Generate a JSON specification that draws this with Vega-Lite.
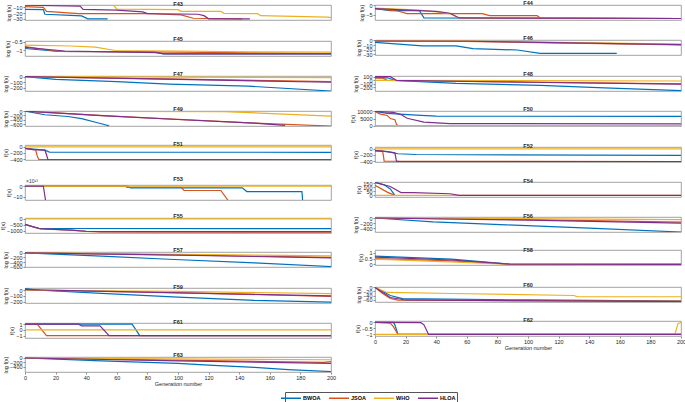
{
"$schema":"https://vega.github.io/schema/vega-lite/v6.json",
"padding":{"left":0,"top":0,"right":1,"bottom":0},
"background":"white",
"data":{"values":[
{"p":"F43","a":"BWOA","g":0,"v":-13.6},{"p":"F43","a":"BWOA","g":12,"v":-14},{"p":"F43","a":"BWOA","g":13,"v":-22},{"p":"F43","a":"BWOA","g":30,"v":-24},{"p":"F43","a":"BWOA","g":37,"v":-25},{"p":"F43","a":"BWOA","g":41,"v":-30},{"p":"F43","a":"BWOA","g":54,"v":-30},
{"p":"F43","a":"JSOA","g":0,"v":-8.7},{"p":"F43","a":"JSOA","g":12,"v":-10},{"p":"F43","a":"JSOA","g":14,"v":-17},{"p":"F43","a":"JSOA","g":35,"v":-21},{"p":"F43","a":"JSOA","g":83,"v":-21},{"p":"F43","a":"JSOA","g":90,"v":-22},{"p":"F43","a":"JSOA","g":102,"v":-23},{"p":"F43","a":"JSOA","g":110,"v":-29},{"p":"F43","a":"JSOA","g":142,"v":-30},
{"p":"F43","a":"WHO","g":0,"v":-6.4},{"p":"F43","a":"WHO","g":58,"v":-6.6},{"p":"F43","a":"WHO","g":60,"v":-13},{"p":"F43","a":"WHO","g":100,"v":-14},{"p":"F43","a":"WHO","g":102,"v":-17},{"p":"F43","a":"WHO","g":128,"v":-17},{"p":"F43","a":"WHO","g":130,"v":-20.5},{"p":"F43","a":"WHO","g":152,"v":-21},{"p":"F43","a":"WHO","g":154,"v":-24.5},{"p":"F43","a":"WHO","g":198,"v":-27},{"p":"F43","a":"WHO","g":200,"v":-28},
{"p":"F43","a":"HLOA","g":0,"v":-6.4},{"p":"F43","a":"HLOA","g":36,"v":-8},{"p":"F43","a":"HLOA","g":38,"v":-13.6},{"p":"F43","a":"HLOA","g":60,"v":-15},{"p":"F43","a":"HLOA","g":77,"v":-18},{"p":"F43","a":"HLOA","g":80,"v":-21},{"p":"F43","a":"HLOA","g":113,"v":-22},{"p":"F43","a":"HLOA","g":117,"v":-24.5},{"p":"F43","a":"HLOA","g":120,"v":-30},{"p":"F43","a":"HLOA","g":147,"v":-30},

{"p":"F44","a":"BWOA","g":0,"v":-1.7},{"p":"F44","a":"BWOA","g":10,"v":-2.8},{"p":"F44","a":"BWOA","g":29,"v":-2.8},{"p":"F44","a":"BWOA","g":32,"v":-6.7},{"p":"F44","a":"BWOA","g":100,"v":-6.8},{"p":"F44","a":"BWOA","g":200,"v":-7},
{"p":"F44","a":"JSOA","g":0,"v":-1.7},{"p":"F44","a":"JSOA","g":15,"v":-3},{"p":"F44","a":"JSOA","g":21,"v":-4.4},{"p":"F44","a":"JSOA","g":70,"v":-4.4},{"p":"F44","a":"JSOA","g":75,"v":-5.5},{"p":"F44","a":"JSOA","g":106,"v":-5.5},{"p":"F44","a":"JSOA","g":108,"v":-6.7},{"p":"F44","a":"JSOA","g":200,"v":-7},
{"p":"F44","a":"WHO","g":0,"v":-1.5},{"p":"F44","a":"WHO","g":15,"v":-2},{"p":"F44","a":"WHO","g":29,"v":-2.5},{"p":"F44","a":"WHO","g":40,"v":-3.5},{"p":"F44","a":"WHO","g":49,"v":-4.4},{"p":"F44","a":"WHO","g":55,"v":-6.7},{"p":"F44","a":"WHO","g":200,"v":-7},
{"p":"F44","a":"HLOA","g":0,"v":-1.7},{"p":"F44","a":"HLOA","g":29,"v":-2.8},{"p":"F44","a":"HLOA","g":40,"v":-3.2},{"p":"F44","a":"HLOA","g":49,"v":-4.2},{"p":"F44","a":"HLOA","g":55,"v":-6.7},{"p":"F44","a":"HLOA","g":200,"v":-7},

{"p":"F45","a":"BWOA","g":0,"v":-0.9},{"p":"F45","a":"BWOA","g":22,"v":-1.08},{"p":"F45","a":"BWOA","g":85,"v":-1.1},{"p":"F45","a":"BWOA","g":90,"v":-1.22},{"p":"F45","a":"BWOA","g":200,"v":-1.22},
{"p":"F45","a":"JSOA","g":0,"v":-0.78},{"p":"F45","a":"JSOA","g":22,"v":-1.08},{"p":"F45","a":"JSOA","g":100,"v":-1.12},{"p":"F45","a":"JSOA","g":200,"v":-1.2},
{"p":"F45","a":"WHO","g":0,"v":-0.7},{"p":"F45","a":"WHO","g":30,"v":-0.75},{"p":"F45","a":"WHO","g":46,"v":-0.82},{"p":"F45","a":"WHO","g":59,"v":-1.02},{"p":"F45","a":"WHO","g":100,"v":-1.05},{"p":"F45","a":"WHO","g":146,"v":-1.1},{"p":"F45","a":"WHO","g":200,"v":-1.12},
{"p":"F45","a":"HLOA","g":0,"v":-0.83},{"p":"F45","a":"HLOA","g":26,"v":-1.05},{"p":"F45","a":"HLOA","g":85,"v":-1.15},{"p":"F45","a":"HLOA","g":92,"v":-1.22},{"p":"F45","a":"HLOA","g":200,"v":-1.22},

{"p":"F46","a":"BWOA","g":0,"v":-4.3},{"p":"F46","a":"BWOA","g":31,"v":-12},{"p":"F46","a":"BWOA","g":53,"v":-12},{"p":"F46","a":"BWOA","g":64,"v":-18},{"p":"F46","a":"BWOA","g":93,"v":-21},{"p":"F46","a":"BWOA","g":108,"v":-28.6},{"p":"F46","a":"BWOA","g":158,"v":-28.6},
{"p":"F46","a":"JSOA","g":0,"v":-1.5},{"p":"F46","a":"JSOA","g":60,"v":-2},{"p":"F46","a":"JSOA","g":200,"v":-10},
{"p":"F46","a":"WHO","g":0,"v":-1},{"p":"F46","a":"WHO","g":60,"v":-1.5},{"p":"F46","a":"WHO","g":200,"v":-8},
{"p":"F46","a":"HLOA","g":0,"v":-1.2},{"p":"F46","a":"HLOA","g":60,"v":-1.8},{"p":"F46","a":"HLOA","g":200,"v":-9},

{"p":"F47","a":"BWOA","g":0,"v":0},{"p":"F47","a":"BWOA","g":20,"v":-48},{"p":"F47","a":"BWOA","g":60,"v":-90},{"p":"F47","a":"BWOA","g":94,"v":-133},{"p":"F47","a":"BWOA","g":146,"v":-170},{"p":"F47","a":"BWOA","g":200,"v":-255},
{"p":"F47","a":"JSOA","g":0,"v":0},{"p":"F47","a":"JSOA","g":100,"v":-45},{"p":"F47","a":"JSOA","g":200,"v":-90},
{"p":"F47","a":"WHO","g":0,"v":0},{"p":"F47","a":"WHO","g":100,"v":-10},{"p":"F47","a":"WHO","g":200,"v":-18},
{"p":"F47","a":"HLOA","g":0,"v":0},{"p":"F47","a":"HLOA","g":100,"v":-50},{"p":"F47","a":"HLOA","g":200,"v":-100},

{"p":"F48","a":"BWOA","g":0,"v":80},{"p":"F48","a":"BWOA","g":8,"v":70},{"p":"F48","a":"BWOA","g":13,"v":0},{"p":"F48","a":"BWOA","g":53,"v":-85},{"p":"F48","a":"BWOA","g":108,"v":-140},{"p":"F48","a":"BWOA","g":150,"v":-210},{"p":"F48","a":"BWOA","g":200,"v":-290},
{"p":"F48","a":"JSOA","g":0,"v":60},{"p":"F48","a":"JSOA","g":5,"v":60},{"p":"F48","a":"JSOA","g":8,"v":0},{"p":"F48","a":"JSOA","g":100,"v":-50},{"p":"F48","a":"JSOA","g":200,"v":-100},
{"p":"F48","a":"WHO","g":0,"v":0},{"p":"F48","a":"WHO","g":100,"v":-10},{"p":"F48","a":"WHO","g":200,"v":-20},
{"p":"F48","a":"HLOA","g":0,"v":100},{"p":"F48","a":"HLOA","g":10,"v":100},{"p":"F48","a":"HLOA","g":14,"v":0},{"p":"F48","a":"HLOA","g":100,"v":-55},{"p":"F48","a":"HLOA","g":200,"v":-110},

{"p":"F49","a":"BWOA","g":0,"v":0},{"p":"F49","a":"BWOA","g":13,"v":-170},{"p":"F49","a":"BWOA","g":28,"v":-250},{"p":"F49","a":"BWOA","g":37,"v":-350},{"p":"F49","a":"BWOA","g":48,"v":-550},{"p":"F49","a":"BWOA","g":55,"v":-680},
{"p":"F49","a":"JSOA","g":0,"v":0},{"p":"F49","a":"JSOA","g":57,"v":-230},{"p":"F49","a":"JSOA","g":100,"v":-380},{"p":"F49","a":"JSOA","g":150,"v":-560},{"p":"F49","a":"JSOA","g":200,"v":-690},
{"p":"F49","a":"WHO","g":0,"v":0},{"p":"F49","a":"WHO","g":130,"v":-20},{"p":"F49","a":"WHO","g":200,"v":-230},
{"p":"F49","a":"HLOA","g":0,"v":0},{"p":"F49","a":"HLOA","g":50,"v":-210},{"p":"F49","a":"HLOA","g":100,"v":-390},{"p":"F49","a":"HLOA","g":150,"v":-560},{"p":"F49","a":"HLOA","g":170,"v":-660},

{"p":"F50","a":"BWOA","g":0,"v":10000},{"p":"F50","a":"BWOA","g":8,"v":8700},{"p":"F50","a":"BWOA","g":27,"v":7400},{"p":"F50","a":"BWOA","g":40,"v":6700},{"p":"F50","a":"BWOA","g":200,"v":6500},
{"p":"F50","a":"JSOA","g":0,"v":10000},{"p":"F50","a":"JSOA","g":3,"v":8300},{"p":"F50","a":"JSOA","g":8,"v":7200},{"p":"F50","a":"JSOA","g":10,"v":5000},{"p":"F50","a":"JSOA","g":13,"v":4200},{"p":"F50","a":"JSOA","g":14,"v":1000},{"p":"F50","a":"JSOA","g":15,"v":0},
{"p":"F50","a":"WHO","g":0,"v":0},{"p":"F50","a":"WHO","g":200,"v":0},
{"p":"F50","a":"HLOA","g":0,"v":10000},{"p":"F50","a":"HLOA","g":12,"v":9400},{"p":"F50","a":"HLOA","g":17,"v":7800},{"p":"F50","a":"HLOA","g":21,"v":5200},{"p":"F50","a":"HLOA","g":32,"v":2500},{"p":"F50","a":"HLOA","g":49,"v":1500},{"p":"F50","a":"HLOA","g":200,"v":1300},

{"p":"F51","a":"BWOA","g":0,"v":-50},{"p":"F51","a":"BWOA","g":13,"v":-110},{"p":"F51","a":"BWOA","g":16,"v":-170},{"p":"F51","a":"BWOA","g":200,"v":-180},
{"p":"F51","a":"JSOA","g":0,"v":-50},{"p":"F51","a":"JSOA","g":7,"v":-100},{"p":"F51","a":"JSOA","g":8,"v":-300},{"p":"F51","a":"JSOA","g":9,"v":-410},{"p":"F51","a":"JSOA","g":200,"v":-415},
{"p":"F51","a":"WHO","g":0,"v":0},{"p":"F51","a":"WHO","g":200,"v":0},
{"p":"F51","a":"HLOA","g":0,"v":-50},{"p":"F51","a":"HLOA","g":5,"v":-90},{"p":"F51","a":"HLOA","g":13,"v":-110},{"p":"F51","a":"HLOA","g":14,"v":-250},{"p":"F51","a":"HLOA","g":15,"v":-420},{"p":"F51","a":"HLOA","g":200,"v":-425},

{"p":"F52","a":"BWOA","g":0,"v":-60},{"p":"F52","a":"BWOA","g":8,"v":-90},{"p":"F52","a":"BWOA","g":15,"v":-160},{"p":"F52","a":"BWOA","g":27,"v":-185},{"p":"F52","a":"BWOA","g":200,"v":-215},
{"p":"F52","a":"JSOA","g":0,"v":-60},{"p":"F52","a":"JSOA","g":5,"v":-70},{"p":"F52","a":"JSOA","g":6,"v":-400},{"p":"F52","a":"JSOA","g":200,"v":-420},
{"p":"F52","a":"WHO","g":0,"v":0},{"p":"F52","a":"WHO","g":200,"v":0},
{"p":"F52","a":"HLOA","g":0,"v":-60},{"p":"F52","a":"HLOA","g":8,"v":-90},{"p":"F52","a":"HLOA","g":13,"v":-130},{"p":"F52","a":"HLOA","g":14,"v":-400},{"p":"F52","a":"HLOA","g":16,"v":-420},{"p":"F52","a":"HLOA","g":200,"v":-420},

{"p":"F53","a":"BWOA","g":0,"v":0},{"p":"F53","a":"BWOA","g":67,"v":0},{"p":"F53","a":"BWOA","g":69,"v":-1.5},{"p":"F53","a":"BWOA","g":142,"v":-1.5},{"p":"F53","a":"BWOA","g":145,"v":-5},{"p":"F53","a":"BWOA","g":181,"v":-5},{"p":"F53","a":"BWOA","g":181.5,"v":-14},
{"p":"F53","a":"JSOA","g":0,"v":0},{"p":"F53","a":"JSOA","g":65,"v":0},{"p":"F53","a":"JSOA","g":67,"v":-1},{"p":"F53","a":"JSOA","g":102,"v":-1},{"p":"F53","a":"JSOA","g":104,"v":-4},{"p":"F53","a":"JSOA","g":128,"v":-4},{"p":"F53","a":"JSOA","g":133,"v":-14},
{"p":"F53","a":"WHO","g":0,"v":0},{"p":"F53","a":"WHO","g":200,"v":0},
{"p":"F53","a":"HLOA","g":0,"v":0},{"p":"F53","a":"HLOA","g":12,"v":0},{"p":"F53","a":"HLOA","g":13.5,"v":-14},

{"p":"F54","a":"BWOA","g":0,"v":160},{"p":"F54","a":"BWOA","g":6,"v":130},{"p":"F54","a":"BWOA","g":10,"v":80},{"p":"F54","a":"BWOA","g":13,"v":0},
{"p":"F54","a":"JSOA","g":0,"v":125},{"p":"F54","a":"JSOA","g":8,"v":40},{"p":"F54","a":"JSOA","g":13,"v":0},
{"p":"F54","a":"WHO","g":0,"v":0},{"p":"F54","a":"WHO","g":200,"v":0},
{"p":"F54","a":"HLOA","g":0,"v":160},{"p":"F54","a":"HLOA","g":10,"v":110},{"p":"F54","a":"HLOA","g":17,"v":35},{"p":"F54","a":"HLOA","g":25,"v":35},{"p":"F54","a":"HLOA","g":49,"v":20},{"p":"F54","a":"HLOA","g":55,"v":0},{"p":"F54","a":"HLOA","g":200,"v":0},

{"p":"F55","a":"BWOA","g":0,"v":-450},{"p":"F55","a":"BWOA","g":3,"v":-600},{"p":"F55","a":"BWOA","g":9,"v":-800},{"p":"F55","a":"BWOA","g":200,"v":-820},
{"p":"F55","a":"JSOA","g":0,"v":-450},{"p":"F55","a":"JSOA","g":10,"v":-850},{"p":"F55","a":"JSOA","g":30,"v":-950},{"p":"F55","a":"JSOA","g":40,"v":-1050},{"p":"F55","a":"JSOA","g":50,"v":-1100},{"p":"F55","a":"JSOA","g":200,"v":-1120},
{"p":"F55","a":"WHO","g":0,"v":0},{"p":"F55","a":"WHO","g":200,"v":0},
{"p":"F55","a":"HLOA","g":0,"v":-450},{"p":"F55","a":"HLOA","g":10,"v":-830},{"p":"F55","a":"HLOA","g":30,"v":-950},{"p":"F55","a":"HLOA","g":40,"v":-1040},{"p":"F55","a":"HLOA","g":50,"v":-1080},{"p":"F55","a":"HLOA","g":200,"v":-1080},

{"p":"F56","a":"BWOA","g":0,"v":0},{"p":"F56","a":"BWOA","g":38,"v":-150},{"p":"F56","a":"BWOA","g":86,"v":-270},{"p":"F56","a":"BWOA","g":140,"v":-400},{"p":"F56","a":"BWOA","g":200,"v":-550},
{"p":"F56","a":"JSOA","g":0,"v":0},{"p":"F56","a":"JSOA","g":100,"v":-60},{"p":"F56","a":"JSOA","g":200,"v":-160},
{"p":"F56","a":"WHO","g":0,"v":0},{"p":"F56","a":"WHO","g":200,"v":-60},
{"p":"F56","a":"HLOA","g":0,"v":0},{"p":"F56","a":"HLOA","g":100,"v":-80},{"p":"F56","a":"HLOA","g":200,"v":-200},

{"p":"F57","a":"BWOA","g":0,"v":0},{"p":"F57","a":"BWOA","g":50,"v":-140},{"p":"F57","a":"BWOA","g":94,"v":-280},{"p":"F57","a":"BWOA","g":150,"v":-440},{"p":"F57","a":"BWOA","g":200,"v":-600},
{"p":"F57","a":"JSOA","g":0,"v":0},{"p":"F57","a":"JSOA","g":100,"v":-90},{"p":"F57","a":"JSOA","g":200,"v":-200},
{"p":"F57","a":"WHO","g":0,"v":0},{"p":"F57","a":"WHO","g":200,"v":-130},
{"p":"F57","a":"HLOA","g":0,"v":0},{"p":"F57","a":"HLOA","g":100,"v":-95},{"p":"F57","a":"HLOA","g":200,"v":-220},

{"p":"F58","a":"BWOA","g":0,"v":0.72},{"p":"F58","a":"BWOA","g":50,"v":0.45},{"p":"F58","a":"BWOA","g":88,"v":0.02},{"p":"F58","a":"BWOA","g":200,"v":0},
{"p":"F58","a":"JSOA","g":0,"v":0.5},{"p":"F58","a":"JSOA","g":50,"v":0.3},{"p":"F58","a":"JSOA","g":88,"v":0.02},{"p":"F58","a":"JSOA","g":200,"v":0},
{"p":"F58","a":"WHO","g":0,"v":0.45},{"p":"F58","a":"WHO","g":88,"v":0.02},{"p":"F58","a":"WHO","g":200,"v":0},
{"p":"F58","a":"HLOA","g":0,"v":0.62},{"p":"F58","a":"HLOA","g":50,"v":0.38},{"p":"F58","a":"HLOA","g":88,"v":0.02},{"p":"F58","a":"HLOA","g":200,"v":0},

{"p":"F59","a":"BWOA","g":0,"v":30},{"p":"F59","a":"BWOA","g":10,"v":0},{"p":"F59","a":"BWOA","g":50,"v":-55},{"p":"F59","a":"BWOA","g":100,"v":-120},{"p":"F59","a":"BWOA","g":150,"v":-180},{"p":"F59","a":"BWOA","g":200,"v":-210},
{"p":"F59","a":"JSOA","g":0,"v":20},{"p":"F59","a":"JSOA","g":5,"v":0},{"p":"F59","a":"JSOA","g":100,"v":-40},{"p":"F59","a":"JSOA","g":200,"v":-110},
{"p":"F59","a":"WHO","g":0,"v":0},{"p":"F59","a":"WHO","g":100,"v":-20},{"p":"F59","a":"WHO","g":200,"v":-60},
{"p":"F59","a":"HLOA","g":0,"v":10},{"p":"F59","a":"HLOA","g":100,"v":-45},{"p":"F59","a":"HLOA","g":200,"v":-100},

{"p":"F60","a":"BWOA","g":0,"v":0},{"p":"F60","a":"BWOA","g":10,"v":-40},{"p":"F60","a":"BWOA","g":18,"v":-55},{"p":"F60","a":"BWOA","g":100,"v":-62},{"p":"F60","a":"BWOA","g":200,"v":-68},
{"p":"F60","a":"JSOA","g":0,"v":0},{"p":"F60","a":"JSOA","g":5,"v":-30},{"p":"F60","a":"JSOA","g":10,"v":-55},{"p":"F60","a":"JSOA","g":15,"v":-63},{"p":"F60","a":"JSOA","g":200,"v":-68},
{"p":"F60","a":"WHO","g":0,"v":0},{"p":"F60","a":"WHO","g":8,"v":-25},{"p":"F60","a":"WHO","g":50,"v":-30},{"p":"F60","a":"WHO","g":130,"v":-40},{"p":"F60","a":"WHO","g":132,"v":-45},{"p":"F60","a":"WHO","g":200,"v":-46},
{"p":"F60","a":"HLOA","g":0,"v":0},{"p":"F60","a":"HLOA","g":10,"v":-50},{"p":"F60","a":"HLOA","g":20,"v":-62},{"p":"F60","a":"HLOA","g":200,"v":-70},

{"p":"F61","a":"BWOA","g":0,"v":1},{"p":"F61","a":"BWOA","g":70,"v":1},{"p":"F61","a":"BWOA","g":75,"v":-1},{"p":"F61","a":"BWOA","g":200,"v":-1},
{"p":"F61","a":"JSOA","g":0,"v":1},{"p":"F61","a":"JSOA","g":8,"v":1},{"p":"F61","a":"JSOA","g":14,"v":-1},{"p":"F61","a":"JSOA","g":200,"v":-1},
{"p":"F61","a":"WHO","g":0,"v":0},{"p":"F61","a":"WHO","g":200,"v":0},
{"p":"F61","a":"HLOA","g":0,"v":1},{"p":"F61","a":"HLOA","g":35,"v":1},{"p":"F61","a":"HLOA","g":37,"v":0.7},{"p":"F61","a":"HLOA","g":49,"v":0.7},{"p":"F61","a":"HLOA","g":55,"v":-1},{"p":"F61","a":"HLOA","g":200,"v":-1},

{"p":"F62","a":"BWOA","g":0,"v":0},{"p":"F62","a":"BWOA","g":12,"v":0},{"p":"F62","a":"BWOA","g":13,"v":-0.2},{"p":"F62","a":"BWOA","g":15,"v":-1},{"p":"F62","a":"BWOA","g":200,"v":-1},
{"p":"F62","a":"JSOA","g":0,"v":0},{"p":"F62","a":"JSOA","g":10,"v":-0.05},{"p":"F62","a":"JSOA","g":12,"v":-0.35},{"p":"F62","a":"JSOA","g":15,"v":-1},{"p":"F62","a":"JSOA","g":200,"v":-1},
{"p":"F62","a":"WHO","g":0,"v":-1},{"p":"F62","a":"WHO","g":196,"v":-1},{"p":"F62","a":"WHO","g":198,"v":-0.1},{"p":"F62","a":"WHO","g":200,"v":0},
{"p":"F62","a":"HLOA","g":0,"v":0},{"p":"F62","a":"HLOA","g":30,"v":-0.02},{"p":"F62","a":"HLOA","g":32,"v":-0.2},{"p":"F62","a":"HLOA","g":35,"v":-1},{"p":"F62","a":"HLOA","g":200,"v":-1},

{"p":"F63","a":"BWOA","g":0,"v":0},{"p":"F63","a":"BWOA","g":50,"v":-130},{"p":"F63","a":"BWOA","g":100,"v":-250},{"p":"F63","a":"BWOA","g":120,"v":-330},{"p":"F63","a":"BWOA","g":150,"v":-430},{"p":"F63","a":"BWOA","g":172,"v":-530},{"p":"F63","a":"BWOA","g":200,"v":-620},
{"p":"F63","a":"JSOA","g":0,"v":0},{"p":"F63","a":"JSOA","g":100,"v":-100},{"p":"F63","a":"JSOA","g":195,"v":-200},{"p":"F63","a":"JSOA","g":200,"v":-170},
{"p":"F63","a":"WHO","g":0,"v":0},{"p":"F63","a":"WHO","g":200,"v":-80},
{"p":"F63","a":"HLOA","g":0,"v":0},{"p":"F63","a":"HLOA","g":100,"v":-130},{"p":"F63","a":"HLOA","g":200,"v":-250}
]},
"hconcat":[
{"spacing":13,"vconcat":[
{"title":"F43","width":306,"height":15,"transform":[{"filter":"datum.p==='F43'"}],"mark":{"type":"line","strokeWidth":1.2,"clip":true},"encoding":{"x":{"field":"g","type":"quantitative","scale":{"domain":[0,200]},"axis":null},"y":{"field":"v","type":"quantitative","scale":{"domain":[-32,-6],"nice":false,"zero":false},"axis":{"values":[-30,-20,-10],"title":"log f(x)"}},"color":{"field":"a","type":"nominal","scale":{"domain":["BWOA","JSOA","WHO","HLOA"],"range":["#0072BD","#D95319","#EDB120","#7E2F8E"]},"legend":{"orient":"none","legendX":260,"legendY":387,"direction":"horizontal","title":null}}}},
{"title":"F45","width":306,"height":15,"transform":[{"filter":"datum.p==='F45'"}],"mark":{"type":"line","strokeWidth":1.2,"clip":true},"encoding":{"x":{"field":"g","type":"quantitative","scale":{"domain":[0,200]},"axis":null},"y":{"field":"v","type":"quantitative","scale":{"domain":[-1.35,-0.45],"nice":false,"zero":false},"axis":{"values":[-1,-0.5],"title":"log f(x)"}},"color":{"field":"a","type":"nominal","scale":{"domain":["BWOA","JSOA","WHO","HLOA"],"range":["#0072BD","#D95319","#EDB120","#7E2F8E"]},"legend":{"orient":"none","legendX":260,"legendY":387,"direction":"horizontal","title":null}}}},
{"title":"F47","width":306,"height":15,"transform":[{"filter":"datum.p==='F47'"}],"mark":{"type":"line","strokeWidth":1.2,"clip":true},"encoding":{"x":{"field":"g","type":"quantitative","scale":{"domain":[0,200]},"axis":null},"y":{"field":"v","type":"quantitative","scale":{"domain":[-255,10],"nice":false,"zero":false},"axis":{"values":[-200,-100,0],"title":"log f(x)"}},"color":{"field":"a","type":"nominal","scale":{"domain":["BWOA","JSOA","WHO","HLOA"],"range":["#0072BD","#D95319","#EDB120","#7E2F8E"]},"legend":{"orient":"none","legendX":260,"legendY":387,"direction":"horizontal","title":null}}}},
{"title":"F49","width":306,"height":15,"transform":[{"filter":"datum.p==='F49'"}],"mark":{"type":"line","strokeWidth":1.2,"clip":true},"encoding":{"x":{"field":"g","type":"quantitative","scale":{"domain":[0,200]},"axis":null},"y":{"field":"v","type":"quantitative","scale":{"domain":[-690,5],"nice":false,"zero":false},"axis":{"values":[-600,-400,-200,0],"title":"log f(x)"}},"color":{"field":"a","type":"nominal","scale":{"domain":["BWOA","JSOA","WHO","HLOA"],"range":["#0072BD","#D95319","#EDB120","#7E2F8E"]},"legend":{"orient":"none","legendX":260,"legendY":387,"direction":"horizontal","title":null}}}},
{"title":"F51","width":306,"height":15,"transform":[{"filter":"datum.p==='F51'"}],"mark":{"type":"line","strokeWidth":1.2,"clip":true},"encoding":{"x":{"field":"g","type":"quantitative","scale":{"domain":[0,200]},"axis":null},"y":{"field":"v","type":"quantitative","scale":{"domain":[-430,60],"nice":false,"zero":false},"axis":{"values":[-400,-200,0],"title":"f(x)"}},"color":{"field":"a","type":"nominal","scale":{"domain":["BWOA","JSOA","WHO","HLOA"],"range":["#0072BD","#D95319","#EDB120","#7E2F8E"]},"legend":{"orient":"none","legendX":260,"legendY":387,"direction":"horizontal","title":null}}}},
{"title":"F53","width":306,"height":15,"layer":[
 {"transform":[{"filter":"datum.p==='F53'"}],"mark":{"type":"line","strokeWidth":1.2,"clip":true},"encoding":{"x":{"field":"g","type":"quantitative","scale":{"domain":[0,200]},"axis":null},"y":{"field":"v","type":"quantitative","scale":{"domain":[-13,1.2],"nice":false,"zero":false},"axis":{"values":[-10,-5,0],"title":"f(x)"}},"color":{"field":"a","type":"nominal","scale":{"domain":["BWOA","JSOA","WHO","HLOA"],"range":["#0072BD","#D95319","#EDB120","#7E2F8E"]},"legend":{"orient":"none","legendX":260,"legendY":387,"direction":"horizontal","title":null}}}},
 {"data":{"values":[{"t":"×10¹³"}]},"mark":{"type":"text","fontSize":5,"font":"Liberation Sans","align":"left","baseline":"bottom","dx":1,"dy":-1,"color":"#333"},"encoding":{"x":{"datum":0,"type":"quantitative"},"y":{"datum":1.2,"type":"quantitative"},"text":{"field":"t"}}}
]},
{"title":"F55","width":306,"height":15,"transform":[{"filter":"datum.p==='F55'"}],"mark":{"type":"line","strokeWidth":1.2,"clip":true},"encoding":{"x":{"field":"g","type":"quantitative","scale":{"domain":[0,200]},"axis":null},"y":{"field":"v","type":"quantitative","scale":{"domain":[-1190,80],"nice":false,"zero":false},"axis":{"values":[-1000,-500,0],"title":"f(x)"}},"color":{"field":"a","type":"nominal","scale":{"domain":["BWOA","JSOA","WHO","HLOA"],"range":["#0072BD","#D95319","#EDB120","#7E2F8E"]},"legend":{"orient":"none","legendX":260,"legendY":387,"direction":"horizontal","title":null}}}},
{"title":"F57","width":306,"height":15,"transform":[{"filter":"datum.p==='F57'"}],"mark":{"type":"line","strokeWidth":1.2,"clip":true},"encoding":{"x":{"field":"g","type":"quantitative","scale":{"domain":[0,200]},"axis":null},"y":{"field":"v","type":"quantitative","scale":{"domain":[-620,40],"nice":false,"zero":false},"axis":{"values":[-600,-400,-200,0],"title":"log f(x)"}},"color":{"field":"a","type":"nominal","scale":{"domain":["BWOA","JSOA","WHO","HLOA"],"range":["#0072BD","#D95319","#EDB120","#7E2F8E"]},"legend":{"orient":"none","legendX":260,"legendY":387,"direction":"horizontal","title":null}}}},
{"title":"F59","width":306,"height":15,"transform":[{"filter":"datum.p==='F59'"}],"mark":{"type":"line","strokeWidth":1.2,"clip":true},"encoding":{"x":{"field":"g","type":"quantitative","scale":{"domain":[0,200]},"axis":null},"y":{"field":"v","type":"quantitative","scale":{"domain":[-225,40],"nice":false,"zero":false},"axis":{"values":[-200,-100,0],"title":"log f(x)"}},"color":{"field":"a","type":"nominal","scale":{"domain":["BWOA","JSOA","WHO","HLOA"],"range":["#0072BD","#D95319","#EDB120","#7E2F8E"]},"legend":{"orient":"none","legendX":260,"legendY":387,"direction":"horizontal","title":null}}}},
{"title":"F61","width":306,"height":15,"transform":[{"filter":"datum.p==='F61'"}],"mark":{"type":"line","strokeWidth":1.2,"clip":true},"encoding":{"x":{"field":"g","type":"quantitative","scale":{"domain":[0,200]},"axis":null},"y":{"field":"v","type":"quantitative","scale":{"domain":[-1.4,1.2],"nice":false,"zero":false},"axis":{"values":[-1,0,1],"title":"f(x)"}},"color":{"field":"a","type":"nominal","scale":{"domain":["BWOA","JSOA","WHO","HLOA"],"range":["#0072BD","#D95319","#EDB120","#7E2F8E"]},"legend":{"orient":"none","legendX":260,"legendY":387,"direction":"horizontal","title":null}}}},
{"title":"F63","width":306,"height":15,"transform":[{"filter":"datum.p==='F63'"}],"mark":{"type":"line","strokeWidth":1.2,"clip":true},"encoding":{"x":{"field":"g","type":"quantitative","scale":{"domain":[0,200]},"axis":{"values":[0,20,40,60,80,100,120,140,160,180,200],"title":"Generation number","labelFlush":false}},"y":{"field":"v","type":"quantitative","scale":{"domain":[-640,45],"nice":false,"zero":false},"axis":{"values":[-400,-200,0],"title":"log f(x)"}},"color":{"field":"a","type":"nominal","scale":{"domain":["BWOA","JSOA","WHO","HLOA"],"range":["#0072BD","#D95319","#EDB120","#7E2F8E"]},"legend":{"orient":"none","legendX":260,"legendY":387,"direction":"horizontal","title":null}}}}
]},
{"spacing":13,"vconcat":[
{"title":"F44","width":306,"height":15,"transform":[{"filter":"datum.p==='F44'"}],"mark":{"type":"line","strokeWidth":1.2,"clip":true},"encoding":{"x":{"field":"g","type":"quantitative","scale":{"domain":[0,200]},"axis":null},"y":{"field":"v","type":"quantitative","scale":{"domain":[-7.8,0.2],"nice":false,"zero":false},"axis":{"values":[-5,0],"title":"log f(x)"}},"color":{"field":"a","type":"nominal","scale":{"domain":["BWOA","JSOA","WHO","HLOA"],"range":["#0072BD","#D95319","#EDB120","#7E2F8E"]},"legend":{"orient":"none","legendX":260,"legendY":387,"direction":"horizontal","title":null}}}},
{"title":"F46","width":306,"height":15,"transform":[{"filter":"datum.p==='F46'"}],"mark":{"type":"line","strokeWidth":1.2,"clip":true},"encoding":{"x":{"field":"g","type":"quantitative","scale":{"domain":[0,200]},"axis":null},"y":{"field":"v","type":"quantitative","scale":{"domain":[-32,1],"nice":false,"zero":false},"axis":{"values":[-30,-20,-10,0],"title":"log f(x)"}},"color":{"field":"a","type":"nominal","scale":{"domain":["BWOA","JSOA","WHO","HLOA"],"range":["#0072BD","#D95319","#EDB120","#7E2F8E"]},"legend":{"orient":"none","legendX":260,"legendY":387,"direction":"horizontal","title":null}}}},
{"title":"F48","width":306,"height":15,"transform":[{"filter":"datum.p==='F48'"}],"mark":{"type":"line","strokeWidth":1.2,"clip":true},"encoding":{"x":{"field":"g","type":"quantitative","scale":{"domain":[0,200]},"axis":null},"y":{"field":"v","type":"quantitative","scale":{"domain":[-300,120],"nice":false,"zero":false},"axis":{"values":[-200,-100,0,100],"title":"log f(x)"}},"color":{"field":"a","type":"nominal","scale":{"domain":["BWOA","JSOA","WHO","HLOA"],"range":["#0072BD","#D95319","#EDB120","#7E2F8E"]},"legend":{"orient":"none","legendX":260,"legendY":387,"direction":"horizontal","title":null}}}},
{"title":"F50","width":306,"height":15,"transform":[{"filter":"datum.p==='F50'"}],"mark":{"type":"line","strokeWidth":1.2,"clip":true},"encoding":{"x":{"field":"g","type":"quantitative","scale":{"domain":[0,200]},"axis":null},"y":{"field":"v","type":"quantitative","scale":{"domain":[-200,10300],"nice":false,"zero":false},"axis":{"values":[0,5000,10000],"title":"f(x)"}},"color":{"field":"a","type":"nominal","scale":{"domain":["BWOA","JSOA","WHO","HLOA"],"range":["#0072BD","#D95319","#EDB120","#7E2F8E"]},"legend":{"orient":"none","legendX":260,"legendY":387,"direction":"horizontal","title":null}}}},
{"title":"F52","width":306,"height":15,"transform":[{"filter":"datum.p==='F52'"}],"mark":{"type":"line","strokeWidth":1.2,"clip":true},"encoding":{"x":{"field":"g","type":"quantitative","scale":{"domain":[0,200]},"axis":null},"y":{"field":"v","type":"quantitative","scale":{"domain":[-430,60],"nice":false,"zero":false},"axis":{"values":[-400,-200,0],"title":"f(x)"}},"color":{"field":"a","type":"nominal","scale":{"domain":["BWOA","JSOA","WHO","HLOA"],"range":["#0072BD","#D95319","#EDB120","#7E2F8E"]},"legend":{"orient":"none","legendX":260,"legendY":387,"direction":"horizontal","title":null}}}},
{"title":"F54","width":306,"height":15,"transform":[{"filter":"datum.p==='F54'"}],"mark":{"type":"line","strokeWidth":1.2,"clip":true},"encoding":{"x":{"field":"g","type":"quantitative","scale":{"domain":[0,200]},"axis":null},"y":{"field":"v","type":"quantitative","scale":{"domain":[-20,165],"nice":false,"zero":false},"axis":{"values":[0,50,100,150],"title":"f(x)"}},"color":{"field":"a","type":"nominal","scale":{"domain":["BWOA","JSOA","WHO","HLOA"],"range":["#0072BD","#D95319","#EDB120","#7E2F8E"]},"legend":{"orient":"none","legendX":260,"legendY":387,"direction":"horizontal","title":null}}}},
{"title":"F56","width":306,"height":15,"transform":[{"filter":"datum.p==='F56'"}],"mark":{"type":"line","strokeWidth":1.2,"clip":true},"encoding":{"x":{"field":"g","type":"quantitative","scale":{"domain":[0,200]},"axis":null},"y":{"field":"v","type":"quantitative","scale":{"domain":[-550,40],"nice":false,"zero":false},"axis":{"values":[-400,-200,0],"title":"log f(x)"}},"color":{"field":"a","type":"nominal","scale":{"domain":["BWOA","JSOA","WHO","HLOA"],"range":["#0072BD","#D95319","#EDB120","#7E2F8E"]},"legend":{"orient":"none","legendX":260,"legendY":387,"direction":"horizontal","title":null}}}},
{"title":"F58","width":306,"height":15,"transform":[{"filter":"datum.p==='F58'"}],"mark":{"type":"line","strokeWidth":1.2,"clip":true},"encoding":{"x":{"field":"g","type":"quantitative","scale":{"domain":[0,200]},"axis":null},"y":{"field":"v","type":"quantitative","scale":{"domain":[-0.05,1.24],"nice":false,"zero":false},"axis":{"values":[0,0.5,1],"title":"f(x)"}},"color":{"field":"a","type":"nominal","scale":{"domain":["BWOA","JSOA","WHO","HLOA"],"range":["#0072BD","#D95319","#EDB120","#7E2F8E"]},"legend":{"orient":"none","legendX":260,"legendY":387,"direction":"horizontal","title":null}}}},
{"title":"F60","width":306,"height":15,"transform":[{"filter":"datum.p==='F60'"}],"mark":{"type":"line","strokeWidth":1.2,"clip":true},"encoding":{"x":{"field":"g","type":"quantitative","scale":{"domain":[0,200]},"axis":null},"y":{"field":"v","type":"quantitative","scale":{"domain":[-72,2],"nice":false,"zero":false},"axis":{"values":[-60,-40,-20,0],"title":"log f(x)"}},"color":{"field":"a","type":"nominal","scale":{"domain":["BWOA","JSOA","WHO","HLOA"],"range":["#0072BD","#D95319","#EDB120","#7E2F8E"]},"legend":{"orient":"none","legendX":260,"legendY":387,"direction":"horizontal","title":null}}}},
{"title":"F62","width":306,"height":15,"transform":[{"filter":"datum.p==='F62'"}],"mark":{"type":"line","strokeWidth":1.2,"clip":true},"encoding":{"x":{"field":"g","type":"quantitative","scale":{"domain":[0,200]},"axis":{"values":[0,20,40,60,80,100,120,140,160,180,200],"title":"Generation number","labelFlush":false}},"y":{"field":"v","type":"quantitative","scale":{"domain":[-1.13,0.12],"nice":false,"zero":false},"axis":{"values":[-1,-0.5,0],"title":"f(x)"}},"color":{"field":"a","type":"nominal","scale":{"domain":["BWOA","JSOA","WHO","HLOA"],"range":["#0072BD","#D95319","#EDB120","#7E2F8E"]},"legend":{"orient":"none","legendX":260,"legendY":387,"direction":"horizontal","title":null}}}}
]}
],
"spacing":14,
"config":{
 "font":"Liberation Sans",
 "view":{"stroke":"#8c8c8c","strokeWidth":0.8},
 "axis":{"labelFontSize":5.5,"titleFontSize":5.5,"labelFont":"Liberation Sans","titleFont":"Liberation Sans","titleFontWeight":"normal","labelColor":"#262626","titleColor":"#262626","grid":false,"domain":false,"tickSize":2,"tickColor":"#8c8c8c","labelPadding":1,"titlePadding":1,"labelOverlap":false,"format":"~r"},
 "title":{"fontSize":5.5,"fontWeight":"bold","offset":-3,"font":"Liberation Sans","color":"#262626"},
 "legend":{"labelFontSize":5.5,"labelFontWeight":"bold","labelFont":"Liberation Sans","symbolType":"M-2.5,0H2.5","symbolSize":64,"symbolStrokeWidth":1.5,"symbolFillColor":"transparent","strokeColor":"#555","padding":1,"columnPadding":5,"labelOffset":7,"rowPadding":0}
}
}
